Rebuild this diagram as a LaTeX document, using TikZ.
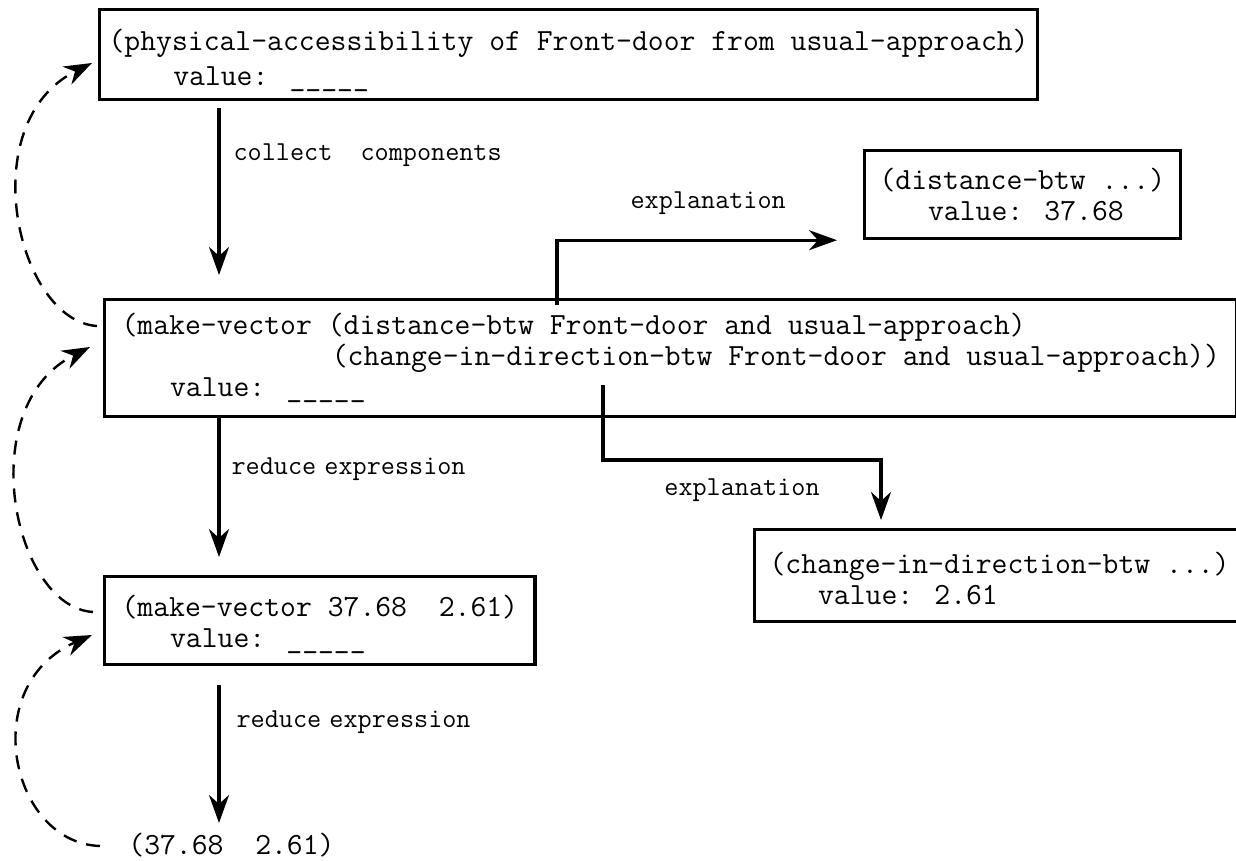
\documentclass[tikz,border=0pt]{standalone}
\usepackage{fontspec}
\usetikzlibrary{arrows.meta}

\begin{document}
\begin{tikzpicture}[x=0.5pt, y=-0.5pt, >={Stealth[length=14pt,width=10pt,inset=4.5pt]},
    exprbox/.style={draw, line width=1.6pt, anchor=north west, align=left, inner xsep=8.5pt, inner ysep=0pt,
      font=\ttfamily\fontsize{15.4}{15.5}\selectfont},
    steplabel/.style={font=\ttfamily\fontsize{13.7}{14}\selectfont, inner sep=0pt},
    flow/.style={->, line width=1.6pt},
    feedback/.style={->, line width=1.2pt, dash pattern=on 7pt off 5pt}]
    \useasboundingbox (0,0) rectangle (1236,861);

    % expressions
    \node[exprbox, minimum height=45pt, inner xsep=4.5pt] (access) at (98,8)
      {\rule{0pt}{16pt}(physical-accessibility of Front-door from usual-approach)\\[2pt]
       \hspace*{2.1em}value: \_\_\_\_\_};
    \node[exprbox, minimum height=58.5pt] (vec) at (103,298)
      {(make-vector (distance-btw Front-door and usual-approach)\\
       \hspace*{6.825em}(change-in-direction-btw Front-door and usual-approach))\\
       \hspace*{1.575em}value: \_\_\_\_\_};
    \node[exprbox, minimum height=44pt] (num) at (103,575)
      {\rule{0pt}{14pt}(make-vector 37.68\ \ 2.61)\\ \hspace*{1.575em}value: \_\_\_\_\_};
    \node[exprbox, minimum height=44pt, inner xsep=7.5pt] (dist) at (863,149)
      {(distance-btw ...)\\ \hspace*{1.575em}value: 37.68};
    \node[exprbox, minimum height=46pt, inner xsep=7.5pt] (dir) at (753,528)
      {\rule{0pt}{14pt}(change-in-direction-btw ...)\\ \hspace*{1.575em}value: 2.61};
    \node[font=\ttfamily\fontsize{15.4}{15.5}\selectfont, anchor=west, inner sep=0pt] (result) at (128,845)
      {(37.68\ \ 2.61)};

    % evaluation steps
    \draw[flow] ([shift={(121,7)}]access.south west) -- ([shift={(116,-23)}]vec.north west)
      node[steplabel, pos=0.28, right=6.5pt] (collect) {collect\ \ components};
    \draw[flow] ([shift={(116,0)}]vec.south west) -- ([shift={(116,-18)}]num.north west)
      node[steplabel, pos=0.37, right=5.5pt] (reduceA) {reduce\hspace{0.3em}expression};
    \draw[flow] ([shift={(116,19)}]num.south west) -- ([shift={(91,-22)}]result.west)
      node[steplabel, pos=0.27, right=8pt] (reduceB) {reduce\hspace{0.3em}expression};

    % explanations
    \draw[flow] ([shift={(454,7)}]vec.north west) |- ([shift={(-26,0)}]dist.south west)
      node[steplabel, pos=0.77, yshift=18.5pt] (explA) {explanation};
    \draw[flow] ([shift={(500,87)}]vec.north west) -- ++(0,75) -| ([shift={(128,-8)}]dir.north west)
      node[steplabel, pos=0.25, yshift=-15pt] (explB) {explanation};

    % values passed back
    \draw[feedback] ([shift={(-6,28)}]vec.north west) .. controls +(-80,-5) and +(-120,60) .. ([shift={(-6,55)}]access.north west);
    \draw[feedback] ([shift={(-10,37)}]num.north west) .. controls +(-80,-5) and +(-118,60) .. ([shift={(-13,49)}]vec.north west);
    \draw[feedback] ([shift={(-28,1)}]result.west) .. controls +(-90,-3) and +(-115,50) .. ([shift={(-11,60)}]num.north west);
\end{tikzpicture}
\end{document}
